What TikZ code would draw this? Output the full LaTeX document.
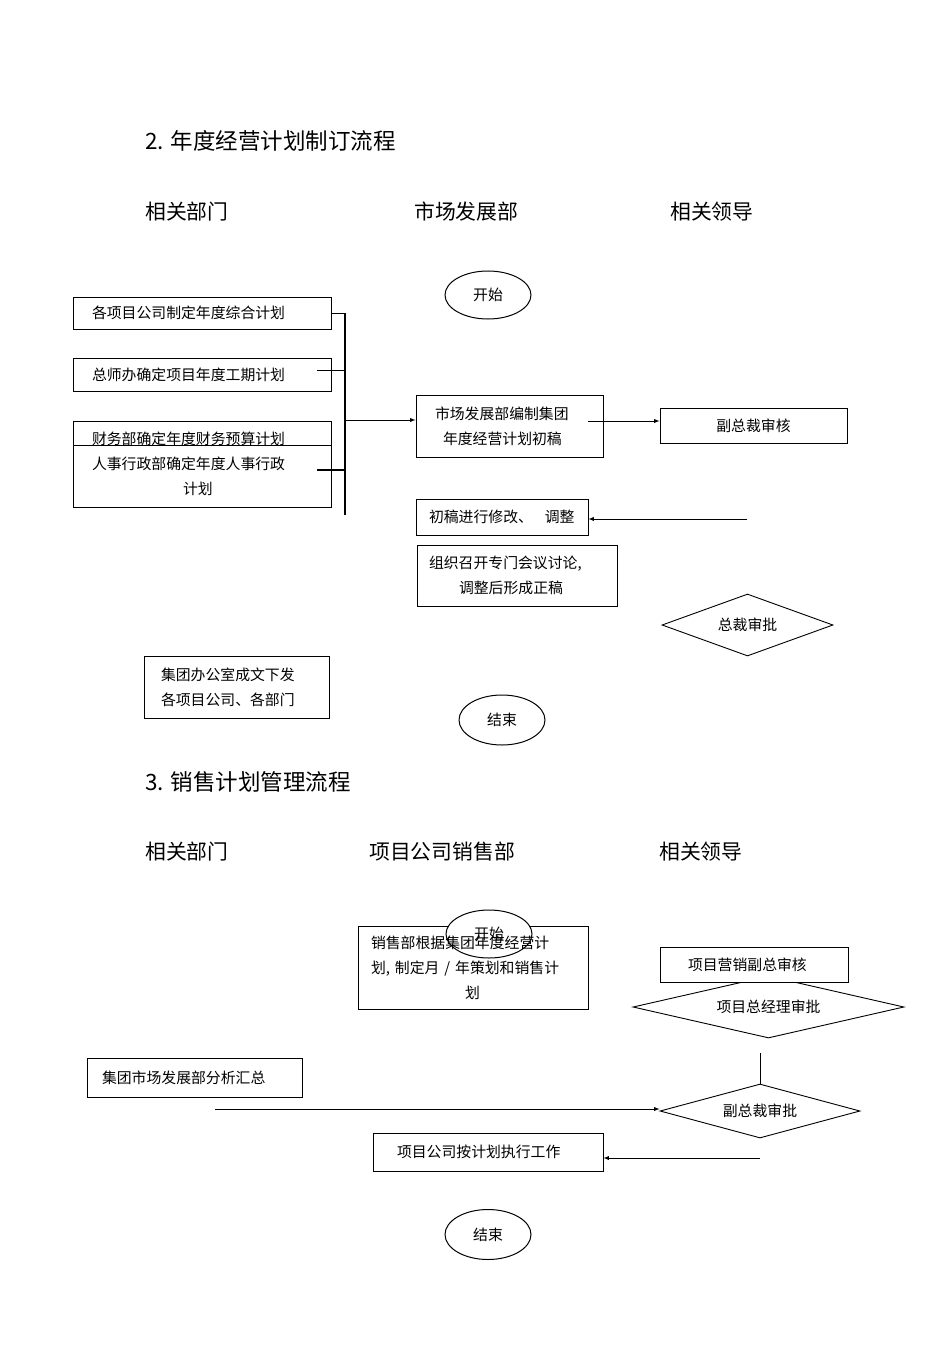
\documentclass[tikz,border=0pt]{standalone}
\usepackage{fontspec}
\newfontfamily\cjk{Noto Sans CJK SC}
\usetikzlibrary{arrows,shapes.geometric,backgrounds}
\newcommand\titlefont{\cjk\fontsize{22.5bp}{27bp}\selectfont}
\newcommand\headfont{\cjk\fontsize{20.8bp}{25bp}\selectfont}
\newcommand\boxfont{\cjk\fontsize{14.85bp}{25bp}\selectfont}
\tikzset{
  boxline/.style={draw, line width=0.9bp},
  planbox/.style={boxline, inner sep=0pt, align=left, font=\boxfont},
  termnode/.style={ellipse, draw, line width=1bp, inner sep=0pt, minimum width=86bp, minimum height=48bp, font=\boxfont},
  checknode/.style={diamond, boxline, inner sep=0pt, font=\boxfont},
  headtext/.style={anchor=west, inner sep=0pt, font=\headfont},
  link/.style={line width=0.9bp},
}
\begin{document}
\begin{tikzpicture}[x=1bp, y=-1bp]
  \useasboundingbox (0,0) rectangle (950,1345);
  \node[anchor=west, inner sep=0pt, font=\titlefont] (title1) at (145,141) {2. 年度经营计划制订流程};
  \node[headtext] (dept1) at (145,212) {相关部门};
  \node[headtext] (market) at (414,212) {市场发展部};
  \node[headtext] (lead1) at (670,212) {相关领导};

  \node[termnode] (start1) at (488,295) {开始};
  \node[planbox, text width=220bp, minimum width=258bp, minimum height=32bp] (a1) at (202,313) {各项目公司制定年度综合计划};
  \node[planbox, text width=220bp, minimum width=258bp, minimum height=33bp] (a2) at (202,374.5) {总师办确定项目年度工期计划};
  \node[planbox, text width=220bp, minimum width=258bp, text height=23bp, text depth=1bp] (a3) at (202,433) {财务部确定年度财务预算计划};
  \node[planbox, text width=220bp, minimum width=258bp, minimum height=62bp] (a4) at (202,476) {人事行政部确定年度人事行政\\\hspace*{91bp}计划};

  \coordinate (bartop) at (345,313);
  \coordinate (barbot) at (345,515);
  \draw[line width=2bp] (bartop) -- (barbot);
  \draw[link] (a1.east) -- (a1.east -| bartop);
  \coordinate (a2out) at (317,370);
  \draw[link] (a2out) -- (a2out -| bartop);
  \coordinate (a4out) at (317,470);
  \draw[line width=1.8bp] (a4out) -- (a4out -| bartop);

  \node[planbox, text width=149bp, minimum width=187bp, minimum height=62bp] (b1) at (509.5,426) {市场发展部编制集团\\\hspace*{8bp}年度经营计划初稿};
  \node[planbox, align=center, minimum width=187bp, minimum height=35bp] (b2) at (753.5,425.5) {副总裁审核};
  \coordinate (barout) at (345,420);
  \draw[link,-latex] (barout) -- (barout -| b1.west);
  \coordinate (b1out) at (588,421);
  \draw[link,-latex] (b1out) -- (b1out -| b2.west);

  \node[planbox, text width=146bp, minimum width=172bp, minimum height=36bp] (b3) at (502,517) {初稿进行修改、\hspace{0.8em}调整};
  \coordinate (back1) at (747,519);
  \draw[link,-latex] (back1) -- (back1 -| b3.east);
  \node[planbox, text width=176bp, minimum width=200bp, minimum height=61bp] (b4) at (517,575.5) {组织召开专门会议讨论,\\\hspace*{30bp}调整后形成正稿};
  \node[checknode, aspect=2.76, minimum width=171bp, minimum height=62bp] (d0) at (747.5,625) {总裁审批};
  \node[planbox, text width=151bp, minimum width=185bp, minimum height=62bp] (a5) at (236.5,687) {集团办公室成文下发\\各项目公司、各部门};
  \node[termnode, minimum height=50bp] (end1) at (502,720) {结束};

  \node[anchor=west, inner sep=0pt, font=\titlefont] (title2) at (145,782) {3. 销售计划管理流程};
  \node[headtext] (dept2) at (145,852) {相关部门};
  \node[headtext] (sales) at (369,852) {项目公司销售部};
  \node[headtext] (lead2) at (659,852) {相关领导};

  \node[planbox, draw=none, text width=205bp, minimum width=229bp, minimum height=82bp] (c1) at (473.5,968) {销售部根据集团年度经营计\\划, 制定月 / 年策划和销售计\\\hspace*{94bp}划};
  \begin{scope}[on background layer]
    \draw[boxline] (c1.north west) rectangle (c1.south east);
    \node[termnode, fill=white] (start2) at (489,934) {开始};
  \end{scope}
  \node[checknode, aspect=4.4, minimum width=271bp, minimum height=62bp] (d1) at (768.5,1007) {项目总经理审批};
  \node[planbox, fill=white, text width=132bp, minimum width=188bp, minimum height=35bp] (c2) at (754,964.5) {项目营销副总审核};
  \node[planbox, text width=185bp, minimum width=215bp, minimum height=39bp] (c0) at (194.5,1077.5) {集团市场发展部分析汇总};
  \node[checknode, aspect=3.7, minimum width=200bp, minimum height=54bp] (d2) at (760,1111) {副总裁审批};
  \coordinate (c0line) at (215,1109);
  \draw[link,-latex] (c0line) -- (c0line -| d2.west);
  \coordinate (d1low) at (760,1053);
  \draw[link] (d1low) -- (d2.north);
  \node[planbox, text width=182bp, minimum width=230bp, minimum height=38bp] (c3) at (488,1152) {项目公司按计划执行工作};
  \coordinate (back2) at (760,1158);
  \draw[link,-latex] (back2) -- (back2 -| c3.east);
  \node[termnode, minimum height=50bp] (end2) at (488,1234.5) {结束};
\end{tikzpicture}
\end{document}
